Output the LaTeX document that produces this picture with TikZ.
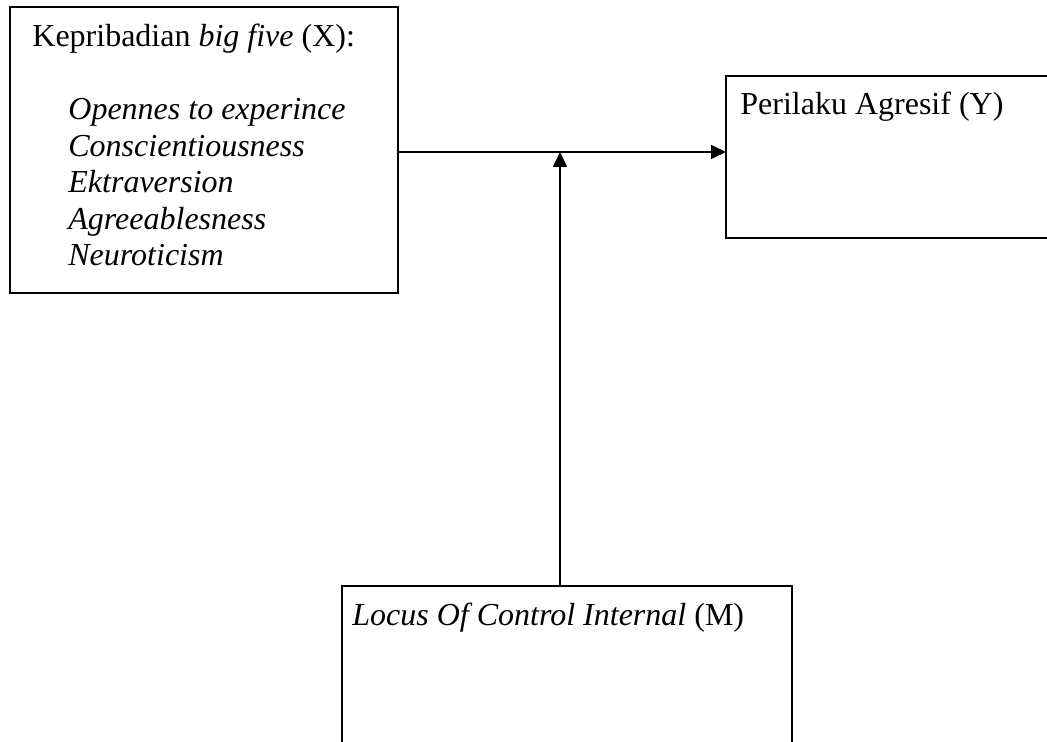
\documentclass[tikz,border=0pt]{standalone}
\usepackage{fontspec}
\setmainfont{Liberation Serif}
\usepackage{tikz}
\usetikzlibrary{arrows.meta, positioning, calc}
\definecolor{mydark}{RGB}{0,0,0}
\tikzset{
  box/.style={rectangle, draw=mydark, line width=1pt, inner sep=0pt,
    outer sep=0pt, anchor=north west},
  txt/.style={anchor=base west, inner sep=0pt,
    font=\fontsize{16}{18.25}\selectfont, text=mydark},
  arrow/.style={-{Triangle[length=7.5pt, width=7pt]}, line width=0.8pt, color=mydark}
}

\begin{document}
\begin{tikzpicture}[x=0.5pt, y=-0.5pt]
  \useasboundingbox (0,0) rectangle (1047,742);
  % Variable boxes
  \node[box, minimum width=194pt, minimum height=143pt] (x) at (10,7) {};
  \node[box, minimum width=180pt, minimum height=81pt] (y) at (726,76) {};
  \node[box, minimum width=225pt, minimum height=100pt] (m) at (342,586) {};

  % Box texts
  \node[txt] (xhead) at ($(x.north west)+(22,40)$) {Kepribadian \textit{big five} (X):};
  \foreach \itemtext [count=\i from 0] in {Opennes to experince, Conscientiousness,
      Ektraversion, Agreeablesness, Neuroticism}
    \node[txt] (xitem\i) at ($(x.north west)+(58,113+36.5*\i)$) {\textit{\itemtext}};
  \node[txt] (yhead) at ($(y.north west)+(14,39)$) {Perilaku Agresif (Y)};
  \node[txt] (mhead) at ($(m.north west)+(10,39)$) {\textit{Locus Of Control Internal} (M)};

  % Connectors
  \coordinate (join) at (560,152);
  \draw[arrow] (x.east |- join) -- (y.west |- join);
  \draw[arrow] (m.north -| join) -- (join);
\end{tikzpicture}
\end{document}
